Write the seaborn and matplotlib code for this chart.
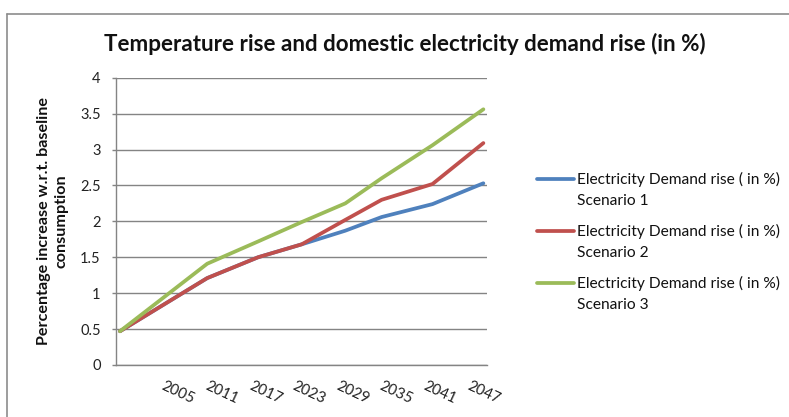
import matplotlib
matplotlib.use("Agg")
import matplotlib.pyplot as plt
from matplotlib.lines import Line2D
import seaborn as sns
import pandas as pd

# ---- data ----
years = [1997, 2009, 2016, 2022, 2028, 2033, 2040, 2047]
scenario1 = [0.47, 1.21, 1.50, 1.68, 1.87, 2.06, 2.24, 2.53]
scenario2 = [0.47, 1.21, 1.50, 1.68, 2.02, 2.30, 2.52, 3.09]
scenario3 = [0.47, 1.41, 1.72, 1.99, 2.25, 2.60, 3.06, 3.56]
series_names = ["Electricity Demand rise ( in %)\nScenario 1",
                "Electricity Demand rise ( in %)\nScenario 2",
                "Electricity Demand rise ( in %)\nScenario 3"]
tick_years = [2005, 2011, 2017, 2023, 2029, 2035, 2041, 2047]
tick_labels = ["2005", "2011", "2017", "2023", "2029", "2035", "2041", "2047"]
y_ticks = [0, 0.5, 1, 1.5, 2, 2.5, 3, 3.5, 4]
colors = ["#4F81BD", "#C0504D", "#9BBB59"]
title = "Temperature rise and domestic electricity demand rise (in %)"
ylabel = "Percentage increase w.r.t. baseline\nconsumption"

rows = []
for name, vals in zip(series_names, [scenario1, scenario2, scenario3]):
    for yr, v in zip(years, vals):
        rows.append({"year": yr, "value": v, "series": name})
df = pd.DataFrame(rows)

sns.set_theme(style="white")
plt.rcParams["font.family"] = ["Lato", "DejaVu Sans"]

W, H = 789, 417
fig = plt.figure(figsize=(W / 100, H / 100), dpi=100)
ax = fig.add_axes([116 / W, 1 - 365 / H, (487 - 116) / W, (365 - 77.7) / H])

grid_c = "#848484"
for yv in y_ticks:
    ax.axhline(yv, color=grid_c, lw=1.0, zorder=0)

sns.lineplot(data=df, x="year", y="value", hue="series", palette=colors,
             linewidth=2.7, legend=False, ax=ax, zorder=3)

ax.set_xlim(1996.45, 2047.5)
ax.set_ylim(0, 4)
ax.set_yticks(y_ticks)
ax.set_yticklabels([f"{v:g}" for v in y_ticks], fontsize=10.5, color="#222222")
ax.set_xticks(tick_years)
ax.set_xticklabels(tick_labels, rotation=-25, ha="center", va="top",
                   fontsize=10.8, color="#222222", rotation_mode="default")
ax.tick_params(axis="x", length=0, pad=10)
ax.tick_params(axis="y", length=3, width=1.0, color=grid_c, pad=8, left=True)
ax.set_xlabel("")
ax.set_ylabel("")
for s in ["top", "right"]:
    ax.spines[s].set_visible(False)
for s in ["left", "bottom"]:
    ax.spines[s].set_color(grid_c)
    ax.spines[s].set_linewidth(1.0)

# y label (two centered lines)
fig.text(53 / W, 1 - 221 / H, ylabel, rotation=90, ha="center", va="center",
         fontsize=11.6, fontweight="bold", linespacing=1.3, color="#111111")

# title
fig.text(405 / W, 1 - 44 / H, title, ha="center", va="center",
         fontsize=16.1, fontweight="bold", color="#111111")

# chart-area border (left and top only visible)
fig.add_artist(Line2D([7 / W, 7 / W], [0, 1 - 14 / H], transform=fig.transFigure,
                      color="#8c8c8c", lw=1.2))
fig.add_artist(Line2D([7 / W, 1], [1 - 14 / H, 1 - 14 / H], transform=fig.transFigure,
                      color="#8c8c8c", lw=1.2))

# legend (handle aligned with first text line)
for i, (name, c) in enumerate(zip(series_names, colors)):
    yl = 179 + i * 52
    fig.add_artist(Line2D([537 / W, 574 / W], [1 - yl / H, 1 - yl / H],
                          transform=fig.transFigure, color=c, lw=2.7))
    fig.text(577 / W, 1 - (yl - 7) / H, name, ha="left", va="top",
             fontsize=11.2, color="#111111", linespacing=1.6)

fig.savefig("out.png", dpi=100)
